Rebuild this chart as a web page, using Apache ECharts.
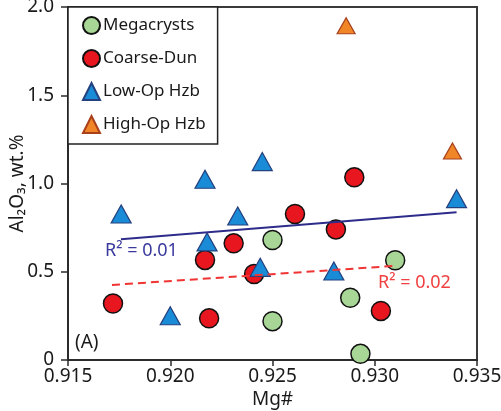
<!DOCTYPE html>
<html>
<head>
<meta charset="utf-8">
<script src="https://cdn.jsdelivr.net/npm/echarts@6/dist/echarts.min.js"></script>
<style>
  html, body { margin: 0; padding: 0; background: #fff; }
  #chart { width: 501px; height: 411px; }
</style>
</head>
<body>
<div id="chart"></div>
<script>
// Mg# vs Al2O3 (wt.%) by sample group
const seriesNames = ['Megacrysts', 'Coarse-Dun', 'Low-Op Hzb', 'High-Op Hzb'];

const megacrysts = [
  [0.9250, 0.68], [0.9250, 0.22], [0.9310, 0.565], [0.9288, 0.353], [0.9293, 0.035]
];
const coarseDun = [
  [0.9172, 0.32], [0.9217, 0.567], [0.9219, 0.236], [0.9231, 0.661], [0.9241, 0.487],
  [0.9261, 0.827], [0.9281, 0.740], [0.9290, 1.035], [0.9303, 0.278]
];
const lowOpHzb = [
  [0.9176, 0.827], [0.9200, 0.251], [0.9217, 1.024], [0.9218, 0.669], [0.9233, 0.816],
  [0.9245, 1.124], [0.9244, 0.525], [0.9280, 0.504], [0.9340, 0.914]
];
const highOpHzb = [
  [0.9286, 1.894], [0.9338, 1.184]
];

// regression lines (end points)
const trendLowOp = [[0.91759, 0.684], [0.9340, 0.837]];
const trendDun = [[0.91715, 0.425], [0.93107, 0.534]];

const xTicks = { min: 0.915, max: 0.935, interval: 0.005 };
const yTicks = { min: 0, max: 2.0, interval: 0.5 };

const FONT = '"Noto Sans", sans-serif';
const AXIS_COLOR = '#2b2b2b';

const chart = echarts.init(document.getElementById('chart'), null, { renderer: 'canvas' });

chart.setOption({
  animation: false,
  backgroundColor: '#ffffff',
  textStyle: { fontFamily: FONT },
  grid: {
    left: 68, right: 24, top: 7, bottom: 51,
    containLabel: false,
    outerBoundsMode: 'none',
    show: true, borderColor: '#3a3a3a', borderWidth: 2, backgroundColor: 'transparent'
  },
  legend: {
    data: seriesNames,
    orient: 'vertical',
    left: 68, top: 7,
    padding: [9, 12, 10, 14],
    itemGap: 14,
    itemWidth: 17, itemHeight: 17,
    backgroundColor: '#fff',
    borderColor: '#222',
    borderWidth: 1.5,
    borderRadius: 0,
    textStyle: { fontFamily: FONT, fontSize: 17, color: '#1a1a1a', lineHeight: 18, padding: [0, 0, 0, -2] }
  },
  xAxis: {
    type: 'value',
    min: xTicks.min, max: xTicks.max, interval: xTicks.interval,
    name: 'Mg#',
    nameLocation: 'middle',
    nameGap: 30,
    nameMoveOverlap: false,
    nameTextStyle: { fontFamily: FONT, fontSize: 19, color: '#1a1a1a' },
    axisLine: { show: true, onZero: false, lineStyle: { color: AXIS_COLOR, width: 2 } },
    axisTick: { show: true, inside: false, length: 6, lineStyle: { color: AXIS_COLOR, width: 1.5 } },
    axisLabel: {
      fontFamily: FONT, fontSize: 19, color: '#1a1a1a', margin: 7,
      formatter: v => v.toFixed(3)
    },
    splitLine: { show: false }
  },
  yAxis: {
    type: 'value',
    min: yTicks.min, max: yTicks.max, interval: yTicks.interval,
    name: 'Al\u2082O\u2083, wt.%',
    nameLocation: 'middle',
    nameGap: 41,
    nameRotate: 90,
    nameMoveOverlap: false,
    nameTextStyle: { fontFamily: FONT, fontSize: 19, color: '#1a1a1a' },
    axisLine: { show: true, onZero: false, lineStyle: { color: AXIS_COLOR, width: 2 } },
    axisTick: { show: true, inside: false, length: 7, lineStyle: { color: AXIS_COLOR, width: 1.5 } },
    axisLabel: {
      fontFamily: FONT, fontSize: 19, color: '#1a1a1a', margin: 14,
      formatter: v => (v === 0 ? '0' : v.toFixed(1))
    },
    splitLine: { show: false }
  },
  series: [
    {
      name: 'Megacrysts', type: 'scatter', data: megacrysts,
      symbol: 'circle', symbolSize: 19, z: 2,
      itemStyle: { color: '#a8d696', borderColor: '#111', borderWidth: 1.5, opacity: 1 }
    },
    {
      name: 'Coarse-Dun', type: 'scatter', data: coarseDun,
      symbol: 'circle', symbolSize: 19, z: 2,
      itemStyle: { color: '#e8161e', borderColor: '#111', borderWidth: 1.5, opacity: 1 }
    },
    {
      name: 'Low-Op Hzb', type: 'scatter', data: lowOpHzb,
      symbol: 'triangle', symbolSize: [20, 18], z: 3,
      itemStyle: { color: '#1a8bd6', borderColor: '#24407e', borderWidth: 1.2, opacity: 1 }
    },
    {
      name: 'High-Op Hzb', type: 'scatter', data: highOpHzb,
      symbol: 'triangle', symbolSize: [18, 16], z: 3,
      itemStyle: { color: '#f08628', borderColor: '#a8401c', borderWidth: 1.2, opacity: 1 }
    },
    {
      name: 'trend-lowop', type: 'line', data: trendLowOp,
      showSymbol: false, symbol: 'none', z: 4, silent: true,
      lineStyle: { color: '#2e2c8a', width: 2 }
    },
    {
      name: 'trend-dun', type: 'line', data: trendDun,
      showSymbol: false, symbol: 'none', z: 4, silent: true,
      lineStyle: { color: '#f03333', width: 2, type: [8, 5] }
    }
  ],
  graphic: [
    {
      type: 'text', left: 105, top: 242, z: 10,
      style: { text: 'R\u00b2 = 0.01', fontFamily: FONT, fontSize: 18, fill: '#3a3a9e' }
    },
    {
      type: 'text', left: 378, top: 274, z: 10,
      style: { text: 'R\u00b2 = 0.02', fontFamily: FONT, fontSize: 18, fill: '#f04040' }
    },
    {
      type: 'text', left: 75, top: 333, z: 10,
      style: { text: '(A)', fontFamily: FONT, fontSize: 19, fill: '#1a1a1a' }
    }
  ]
});
</script>
</body>
</html>
